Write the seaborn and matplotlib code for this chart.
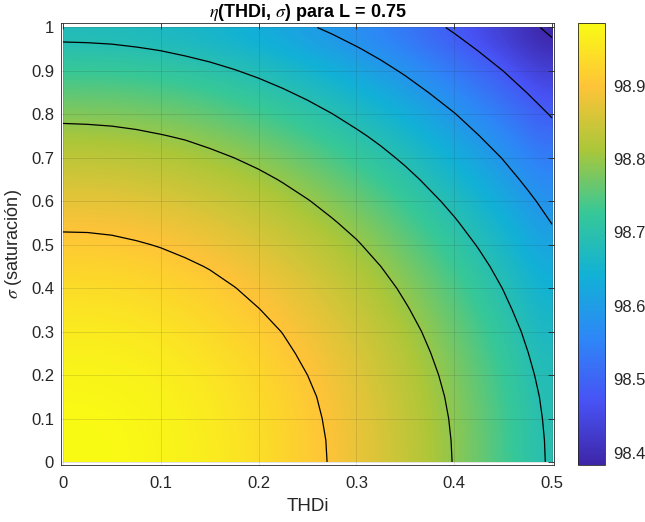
import numpy as np
import matplotlib
matplotlib.use("Agg")
import matplotlib.pyplot as plt
import seaborn as sns

# THDi (x) and saturation sigma (y) sample points
thdi = [0.0, 0.025, 0.05, 0.075, 0.10, 0.125, 0.15, 0.175, 0.20, 0.225, 0.25,
        0.275, 0.30, 0.325, 0.35, 0.375, 0.40, 0.425, 0.45, 0.475, 0.50]
sigma = [0.0, 0.05, 0.10, 0.15, 0.20, 0.25, 0.30, 0.35, 0.40, 0.45, 0.50,
         0.55, 0.60, 0.65, 0.70, 0.75, 0.80, 0.85, 0.90, 0.95, 1.00]

# efficiency eta (%), one row per sigma value
eta_s000 = [98.986, 98.985, 98.983, 98.979, 98.974, 98.968, 98.960, 98.950, 98.939, 98.926, 98.912,
            98.897, 98.880, 98.862, 98.842, 98.821, 98.798, 98.773, 98.748, 98.721, 98.692]
eta_s005 = [98.985, 98.984, 98.982, 98.979, 98.973, 98.967, 98.959, 98.949, 98.938, 98.926, 98.912,
            98.896, 98.879, 98.861, 98.841, 98.820, 98.797, 98.773, 98.747, 98.720, 98.691]
eta_s010 = [98.983, 98.982, 98.980, 98.976, 98.971, 98.965, 98.956, 98.947, 98.936, 98.923, 98.909,
            98.894, 98.877, 98.859, 98.839, 98.817, 98.795, 98.770, 98.745, 98.717, 98.689]
eta_s015 = [98.979, 98.978, 98.976, 98.973, 98.967, 98.961, 98.953, 98.943, 98.932, 98.920, 98.906,
            98.890, 98.873, 98.855, 98.835, 98.814, 98.791, 98.767, 98.741, 98.714, 98.685]
eta_s020 = [98.974, 98.973, 98.971, 98.967, 98.962, 98.955, 98.947, 98.938, 98.927, 98.914, 98.900,
            98.885, 98.868, 98.849, 98.830, 98.808, 98.786, 98.761, 98.736, 98.708, 98.680]
eta_s025 = [98.967, 98.966, 98.964, 98.960, 98.955, 98.948, 98.940, 98.931, 98.920, 98.907, 98.893,
            98.878, 98.861, 98.843, 98.823, 98.801, 98.779, 98.754, 98.729, 98.701, 98.673]
eta_s030 = [98.958, 98.958, 98.956, 98.952, 98.947, 98.940, 98.932, 98.922, 98.911, 98.899, 98.885,
            98.869, 98.853, 98.834, 98.814, 98.793, 98.770, 98.746, 98.720, 98.693, 98.664]
eta_s035 = [98.949, 98.948, 98.946, 98.942, 98.937, 98.930, 98.922, 98.912, 98.901, 98.889, 98.875,
            98.860, 98.843, 98.824, 98.804, 98.783, 98.760, 98.736, 98.710, 98.683, 98.654]
eta_s040 = [98.937, 98.936, 98.934, 98.930, 98.925, 98.919, 98.911, 98.901, 98.890, 98.877, 98.864,
            98.848, 98.831, 98.813, 98.793, 98.772, 98.749, 98.725, 98.699, 98.672, 98.643]
eta_s045 = [98.924, 98.923, 98.921, 98.917, 98.912, 98.906, 98.898, 98.888, 98.877, 98.864, 98.851,
            98.835, 98.818, 98.800, 98.780, 98.759, 98.736, 98.712, 98.686, 98.659, 98.630]
eta_s050 = [98.910, 98.909, 98.907, 98.903, 98.898, 98.891, 98.883, 98.873, 98.862, 98.850, 98.836,
            98.821, 98.804, 98.785, 98.765, 98.744, 98.721, 98.697, 98.671, 98.644, 98.615]
eta_s055 = [98.893, 98.893, 98.891, 98.887, 98.882, 98.875, 98.867, 98.857, 98.846, 98.834, 98.820,
            98.804, 98.788, 98.769, 98.749, 98.728, 98.705, 98.681, 98.655, 98.628, 98.599]
eta_s060 = [98.876, 98.875, 98.873, 98.869, 98.864, 98.857, 98.849, 98.840, 98.829, 98.816, 98.802,
            98.787, 98.770, 98.752, 98.732, 98.710, 98.688, 98.663, 98.638, 98.610, 98.582]
eta_s065 = [98.857, 98.856, 98.854, 98.850, 98.845, 98.838, 98.830, 98.821, 98.810, 98.797, 98.783,
            98.768, 98.751, 98.732, 98.713, 98.691, 98.668, 98.644, 98.618, 98.591, 98.563]
eta_s070 = [98.836, 98.835, 98.833, 98.829, 98.824, 98.818, 98.810, 98.800, 98.789, 98.777, 98.763,
            98.747, 98.730, 98.712, 98.692, 98.671, 98.648, 98.624, 98.598, 98.571, 98.542]
eta_s075 = [98.814, 98.813, 98.811, 98.807, 98.802, 98.796, 98.787, 98.778, 98.767, 98.754, 98.740,
            98.725, 98.708, 98.690, 98.670, 98.648, 98.626, 98.601, 98.576, 98.548, 98.520]
eta_s080 = [98.790, 98.789, 98.787, 98.784, 98.778, 98.772, 98.764, 98.754, 98.743, 98.731, 98.717,
            98.701, 98.684, 98.666, 98.646, 98.625, 98.602, 98.578, 98.552, 98.525, 98.496]
eta_s085 = [98.765, 98.764, 98.762, 98.758, 98.753, 98.747, 98.738, 98.729, 98.718, 98.705, 98.691,
            98.676, 98.659, 98.641, 98.621, 98.599, 98.577, 98.552, 98.527, 98.499, 98.471]
eta_s090 = [98.738, 98.737, 98.735, 98.732, 98.726, 98.720, 98.712, 98.702, 98.691, 98.679, 98.665,
            98.649, 98.632, 98.614, 98.594, 98.573, 98.550, 98.526, 98.500, 98.473, 98.444]
eta_s095 = [98.710, 98.709, 98.707, 98.703, 98.698, 98.691, 98.683, 98.674, 98.663, 98.650, 98.636,
            98.621, 98.604, 98.586, 98.566, 98.544, 98.522, 98.497, 98.472, 98.444, 98.416]
eta_s100 = [98.680, 98.679, 98.677, 98.673, 98.668, 98.662, 98.654, 98.644, 98.633, 98.620, 98.606,
            98.591, 98.574, 98.556, 98.536, 98.515, 98.492, 98.467, 98.442, 98.415, 98.386]

contour_levels = [98.4, 98.5, 98.6, 98.7, 98.8, 98.9]
cbar_ticks = [98.4, 98.5, 98.6, 98.7, 98.8, 98.9]

eta = np.array([eta_s000, eta_s005, eta_s010, eta_s015, eta_s020, eta_s025, eta_s030,
                eta_s035, eta_s040, eta_s045, eta_s050, eta_s055, eta_s060, eta_s065,
                eta_s070, eta_s075, eta_s080, eta_s085, eta_s090, eta_s095, eta_s100])

sns.set_style("white")
plt.rcParams['font.family'] = ['Liberation Sans', 'DejaVu Sans']
plt.rcParams['mathtext.fontset'] = 'stix'

# parula-like colormap (MATLAB parula(8) anchors)
parula = sns.blend_palette([(0.2422, 0.1504, 0.6603), (0.2810, 0.3228, 0.9579),
                            (0.1786, 0.5289, 0.9682), (0.0689, 0.6948, 0.8394),
                            (0.2161, 0.7843, 0.5923), (0.6720, 0.7793, 0.2227),
                            (0.9970, 0.7659, 0.2199), (0.9769, 0.9839, 0.0805)], as_cmap=True)

dark = '#262626'
fig = plt.figure(figsize=(6.45, 5.22), dpi=100)
ax = fig.add_axes([0.0946, 0.1092, 0.7643, 0.8473])
cax = fig.add_axes([0.8957, 0.1092, 0.0423, 0.8473])

vmin, vmax = 98.383, 98.986
im = ax.imshow(eta, origin='lower', cmap=parula, vmin=vmin, vmax=vmax,
               extent=[thdi[0], thdi[-1], sigma[0], sigma[-1]],
               aspect='auto', interpolation='bicubic')
ax.contour(thdi, sigma, eta, levels=contour_levels, colors='k', linewidths=0.9)

ax.set_xlim(-0.002, 0.502)
ax.set_ylim(-0.007, 1.011)
ax.set_xticks(np.round(np.arange(0, 0.51, 0.1), 1))
ax.set_yticks(np.round(np.arange(0, 1.01, 0.1), 1))
ax.set_xticklabels(['0', '0.1', '0.2', '0.3', '0.4', '0.5'])
ax.set_yticklabels(['0', '0.1', '0.2', '0.3', '0.4', '0.5', '0.6', '0.7', '0.8', '0.9', '1'])
ax.grid(True, color=dark, alpha=0.15, linewidth=0.6)
ax.set_axisbelow(False)
ax.tick_params(direction='in', length=4, width=0.6, colors=dark, labelsize=12,
               top=True, right=True, labelcolor=dark)
ax.tick_params(axis='x', pad=8)
ax.tick_params(axis='y', pad=5)
for s in ax.spines.values():
    s.set_color(dark)
    s.set_linewidth(0.6)

ax.set_title(r'$\eta$(THDi, $\sigma$) para L = 0.75', fontsize=13, fontweight='bold',
             color='black', pad=4)
ax.set_xlabel('THDi', fontsize=13.5, color=dark, labelpad=5)
ax.set_ylabel(r'$\sigma$ (saturación)', fontsize=13, color=dark, labelpad=5)

cb = fig.colorbar(im, cax=cax, ticks=cbar_ticks)
cb.outline.set_edgecolor(dark)
cb.outline.set_linewidth(0.6)
cax.tick_params(direction='in', length=4, width=0.6, colors=dark, labelsize=12, pad=6)

fig.savefig('out.png', dpi=100)
